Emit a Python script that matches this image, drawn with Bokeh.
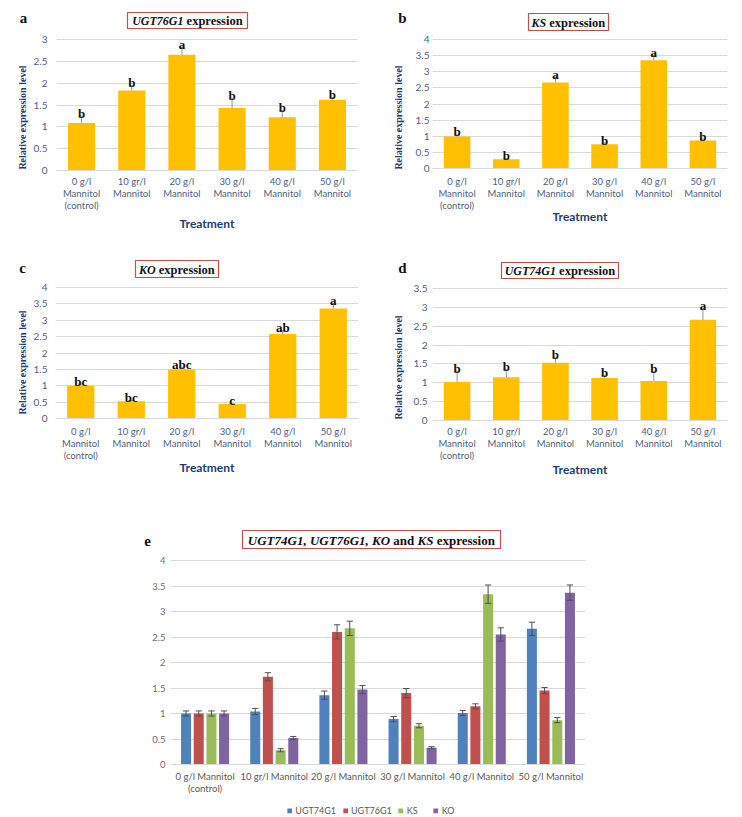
import numpy as np
from bokeh.plotting import figure
from bokeh.models import (ColumnDataSource, FixedTicker, CustomJSTickFormatter, Label,
                          BoxAnnotation, Legend, LegendItem, Range1d, Plot)
from bokeh.layouts import column, row
from bokeh.core.properties import value
from bokeh.embed import file_html
from bokeh.resources import INLINE

# ---------------- data ----------------
cat_labels_small = ["0 g/l\nMannitol\n(control)", "10 gr/l\nMannitol", "20 g/l\nMannitol",
                    "30 g/l\nMannitol", "40 g/l\nMannitol", "50 g/l\nMannitol"]
cat_labels_e = ["0 g/l Mannitol\n(control)", "10 gr/l Mannitol", "20 g/l Mannitol",
                "30 g/l Mannitol", "40 g/l Mannitol", "50 g/l Mannitol"]

# panel a: UGT76G1
ugt76g1_mean = [1.09, 1.83, 2.65, 1.43, 1.22, 1.62]
ugt76g1_err = [0.15, 0.11, 0.17, 0.21, 0.15, 0.05]
ugt76g1_sig = ["b", "b", "a", "b", "b", "b"]
# panel b: KS
ks_mean = [0.99, 0.29, 2.67, 0.75, 3.36, 0.87]
ks_err = [0.05, 0.02, 0.16, 0.04, 0.15, 0.04]
ks_sig = ["b", "b", "a", "b", "a", "b"]
# panel c: KO
ko_mean = [1.00, 0.53, 1.50, 0.44, 2.58, 3.36]
ko_err = [0.05, 0.02, 0.05, 0.01, 0.10, 0.15]
ko_sig = ["bc", "bc", "abc", "c", "ab", "a"]
# panel d: UGT74G1
ugt74g1_mean = [1.02, 1.15, 1.53, 1.13, 1.05, 2.67]
ugt74g1_err = [0.28, 0.20, 0.13, 0.06, 0.25, 0.29]
ugt74g1_sig = ["b", "b", "b", "b", "b", "a"]

# panel e: all four genes
e_series = ["UGT74G1", "UGT76G1", "KS", "KO"]
e_ugt74g1_mean = [1.00, 1.04, 1.36, 0.89, 1.01, 2.66]
e_ugt74g1_sd = [0.05, 0.06, 0.08, 0.05, 0.05, 0.13]
e_ugt76g1_mean = [1.00, 1.72, 2.60, 1.40, 1.14, 1.45]
e_ugt76g1_sd = [0.05, 0.08, 0.14, 0.09, 0.05, 0.06]
e_ks_mean = [1.00, 0.28, 2.67, 0.76, 3.34, 0.87]
e_ks_sd = [0.05, 0.03, 0.14, 0.04, 0.18, 0.05]
e_ko_mean = [1.00, 0.52, 1.47, 0.33, 2.55, 3.37]
e_ko_sd = [0.05, 0.03, 0.08, 0.02, 0.13, 0.15]
e_colors = ["#4F81BD", "#C0504D", "#9BBB59", "#8064A2"]

# ---------------- styling ----------------
SERIF = "Liberation Serif"
SANS = "Lato"
BAR = "#FFC000"
GRID = "#D9D9D9"
TICK_BLUE = "#4E6180"
DARK_BLUE = "#1F3C6B"
BOX_RED = "#C0504D"
INK = "#111111"

NOALIGN = {"frame_align": False} if "frame_align" in Plot.properties() else {}

# Times (Liberation Serif) advance widths, per 1000 em
BI = {"U": 722, "G": 722, "T": 611, "K": 667, "O": 722, "S": 556, ",": 250, " ": 250}
for d in "0123456789":
    BI[d] = 500
B = {"e": 444, "x": 500, "p": 556, "r": 444, "s": 389, "i": 278, "o": 500, "n": 556,
     "a": 500, "d": 556, " ": 250}


def text_w(s, italic, size):
    tab = BI if italic else B
    return sum(tab.get(c, 500) for c in s) * size / 1000.0


def canvas(w, h):
    """A plain drawing area whose data units are pixels (y downward)."""
    c = figure(width=w, height=h, x_range=Range1d(0, w), y_range=Range1d(h, 0),
               output_backend="svg", toolbar_location=None,
               min_border_left=0, min_border_right=0, min_border_top=0, min_border_bottom=0,
               x_axis_location=None, y_axis_location=None, **NOALIGN)
    c.outline_line_color = None
    c.background_fill_color = "white"
    c.border_fill_color = "white"
    c.grid.grid_line_color = None
    c.grid.visible = False
    return c


def add_title(c, box, segs):
    l, r, t, b = box
    c.add_layout(BoxAnnotation(left=l, right=r, top=t, bottom=b,
                               fill_color="white", fill_alpha=1.0, line_color=BOX_RED,
                               line_width=1.2, line_alpha=1.0))
    widths = [text_w(s, it, sz) for s, it, sz in segs]
    gaps = [250 * sz / 1000.0 for s, it, sz in segs[1:]]
    total = sum(widths) + sum(gaps)
    xpos = (l + r) / 2.0 - total / 2.0
    cy = (t + b) / 2.0 + 0.5
    for i, (s, it, sz) in enumerate(segs):
        c.add_layout(Label(x=xpos, y=cy, text=s, text_font=SERIF,
                           text_font_style="bold italic" if it else "bold",
                           text_font_size=f"{sz}px", text_align="left",
                           text_baseline="middle", text_color=INK))
        xpos += widths[i]
        if i < len(gaps):
            xpos += gaps[i]


def header(w, h, letter, letter_xy, box, segs):
    c = canvas(w, h)
    c.add_layout(Label(x=letter_xy[0], y=letter_xy[1], text=letter, text_font=SERIF,
                       text_font_style="bold", text_font_size="15px", text_align="center",
                       text_baseline="middle", text_color=INK))
    add_title(c, box, segs)
    return c


def plot_fig(w, h, border_l, frame_w, tick_top, frame_bottom, ymax, pad=8):
    # tick_top / frame_bottom measured from this figure's top edge
    ppu = (frame_bottom - tick_top) / ymax
    y_end = ymax + pad / ppu
    top_border = tick_top - pad
    p = figure(width=w, height=h, x_range=Range1d(-0.5, 5.5), y_range=Range1d(0, y_end),
               output_backend="svg", toolbar_location=None,
               min_border_left=border_l, min_border_right=w - border_l - frame_w,
               min_border_top=top_border, min_border_bottom=h - frame_bottom, **NOALIGN)
    p.outline_line_color = None
    p.background_fill_color = "white"
    p.border_fill_color = "white"
    ticks = [i * 0.5 for i in range(int(round(ymax / 0.5)) + 1)]
    p.yaxis.ticker = FixedTicker(ticks=ticks)
    p.ygrid.ticker = FixedTicker(ticks=ticks)
    p.yaxis.formatter = CustomJSTickFormatter(code="return String(Math.round(tick*10)/10);")
    p.xgrid.grid_line_color = None
    p.ygrid.grid_line_color = GRID
    p.ygrid.grid_line_width = 1
    p.yaxis.axis_line_color = None
    for ax in (p.xaxis, p.yaxis):
        ax.major_tick_line_color = None
        ax.minor_tick_line_color = None
        ax.major_tick_out = 0
        ax.major_tick_in = 0
        ax.minor_tick_out = 0
        ax.minor_tick_in = 0
    p.xaxis.axis_line_color = GRID
    p.xaxis.ticker = FixedTicker(ticks=list(range(6)))
    return p


def small_panel(pw, ph, head_h, strip_w, frame_l, frame_r, tick_top, frame_bottom, ymax,
                means, errs, sig, segs, title_box, letter, letter_xy, ytitle_xy,
                ytick_standoff, cat_standoff, lab_standoff):
    # all coordinates are local to the panel's top-left corner
    head = header(pw, head_h, letter, letter_xy, title_box, segs)
    body_h = ph - head_h
    strip = canvas(strip_w, body_h)
    strip.add_layout(Label(x=ytitle_xy[0], y=ytitle_xy[1] - head_h, text="Relative expression level",
                           angle=np.pi / 2, text_font=SERIF, text_font_style="bold",
                           text_font_size="10px", text_color=DARK_BLUE, text_align="center",
                           text_baseline="middle"))
    p = plot_fig(pw - strip_w, body_h, frame_l - strip_w, frame_r - frame_l,
                 tick_top - head_h, frame_bottom - head_h, ymax)
    xs = list(range(6))
    src = ColumnDataSource(dict(
        x=xs, top=means,
        err_top=[m + e for m, e in zip(means, errs)],
        cap_l=[x - 0.06 for x in xs], cap_r=[x + 0.06 for x in xs], sig=sig))
    p.vbar(x="x", top="top", width=0.54, source=src, fill_color=BAR, line_color=None)
    p.segment(x0="x", y0="top", x1="x", y1="err_top", source=src, line_color="#8497B0", line_width=1)
    p.segment(x0="cap_l", y0="err_top", x1="cap_r", y1="err_top", source=src,
              line_color="#8497B0", line_width=1)
    p.text(x="x", y="err_top", text="sig", source=src, text_font=value(SERIF),
           text_font_style="bold", text_font_size="13px", text_align="center",
           text_baseline="alphabetic", y_offset=-3, text_color=INK)

    p.yaxis.major_label_text_font = SANS
    p.yaxis.major_label_text_font_size = "10px"
    p.yaxis.major_label_text_color = TICK_BLUE
    p.yaxis.major_label_standoff = ytick_standoff

    p.xaxis.formatter = CustomJSTickFormatter(args=dict(labels=cat_labels_small),
                                              code="return labels[Math.round(tick)] || '';")
    p.xaxis.major_label_text_font = SANS
    p.xaxis.major_label_text_font_size = "9.5px"
    p.xaxis.major_label_text_color = TICK_BLUE
    p.xaxis.major_label_text_line_height = 1.1
    p.xaxis.major_label_standoff = cat_standoff
    p.xaxis.axis_label = "Treatment"
    p.xaxis.axis_label_text_font = SANS
    p.xaxis.axis_label_text_font_style = "bold"
    p.xaxis.axis_label_text_font_size = "12px"
    p.xaxis.axis_label_text_color = DARK_BLUE
    p.xaxis.axis_label_standoff = lab_standoff
    return column(row(head), row(column(strip), column(p)))


# panel a: page x 0..371, y 0..248
pa = small_panel(371, 248, 31, 30, 55, 357, 39, 170, 3.0, ugt76g1_mean, ugt76g1_err, ugt76g1_sig,
                 [("UGT76G1", True, 12), ("expression", False, 12.5)], (127, 247, 12, 28),
                 "a", (23, 17), (22, 117), 9, 5, 2)
# panel b: page x 371..742, y 0..248
pb = small_panel(371, 248, 31, 36, 432 - 371, 727 - 371, 39, 168, 4.0, ks_mean, ks_err, ks_sig,
                 [("KS", True, 12), ("expression", False, 12.5)], (157, 237, 13, 30),
                 "b", (31, 17), (27, 117), 3, 7, -5)
# panel c: page x 0..371, y 248..490
pc = small_panel(371, 242, 31, 30, 55, 358, 287 - 248, 418 - 248, 4.0, ko_mean, ko_err, ko_sig,
                 [("KO", True, 12), ("expression", False, 12.5)], (135, 218, 12, 29),
                 "c", (22, 19), (22, 362 - 248), 8, 7, -4)
# panel d: page x 371..742, y 248..490
pd_ = small_panel(371, 242, 32, 36, 432 - 371, 727 - 371, 288 - 248, 420 - 248, 3.5,
                  ugt74g1_mean, ugt74g1_err, ugt74g1_sig,
                  [("UGT74G1", True, 12), ("expression", False, 12.5)], (130, 247, 14, 30),
                  "d", (31, 19), (27, 367 - 248), 5, 5, -2)

# ---------------- panel e: page y 490..817 ----------------
e_head_h = 62
e_head = header(742, e_head_h, "e", (147, 50), (242, 500, 40, 58),
                [("UGT74G1, UGT76G1, KO", True, 13), ("and", False, 13), ("KS", True, 13),
                 ("expression", False, 13)])
pe = plot_fig(742, 251, 170, 415, 560 - 552, 764 - 552, 4.0, pad=8)
e_means = [e_ugt74g1_mean, e_ugt76g1_mean, e_ks_mean, e_ko_mean]
e_sds = [e_ugt74g1_sd, e_ugt76g1_sd, e_ks_sd, e_ko_sd]
offsets = [-0.275, -0.092, 0.092, 0.275]
for name, m, sd, off, col in zip(e_series, e_means, e_sds, offsets, e_colors):
    xs = [i + off for i in range(6)]
    src = ColumnDataSource(dict(x=xs, top=m,
                                lo=[a - b for a, b in zip(m, sd)],
                                hi=[a + b for a, b in zip(m, sd)],
                                cl=[x - 0.045 for x in xs], cr=[x + 0.045 for x in xs]))
    pe.vbar(x="x", top="top", width=0.145, source=src, fill_color=col, line_color=None)
    pe.segment(x0="x", y0="lo", x1="x", y1="hi", source=src, line_color="#505050", line_width=1)
    pe.segment(x0="cl", y0="hi", x1="cr", y1="hi", source=src, line_color="#505050", line_width=1)
    pe.segment(x0="cl", y0="lo", x1="cr", y1="lo", source=src, line_color="#505050", line_width=1)

pe.yaxis.major_label_text_font = SANS
pe.yaxis.major_label_text_font_size = "9.5px"
pe.yaxis.major_label_text_color = "#6E6E6E"
pe.yaxis.major_label_standoff = 5
pe.xaxis.formatter = CustomJSTickFormatter(args=dict(labels=cat_labels_e),
                                           code="return labels[Math.round(tick)] || '';")
pe.xaxis.major_label_text_font = SANS
pe.xaxis.major_label_text_font_size = "9.5px"
pe.xaxis.major_label_text_color = "#595959"
pe.xaxis.major_label_text_line_height = 1.1
pe.xaxis.major_label_standoff = 6

# legend strip (swatch proxies sit outside the visible area)
leg = canvas(748, 14)
items = []
for name, col in zip(e_series, e_colors):
    r = leg.vbar(x=[-100], top=[-100], width=1, fill_color=col, line_color=None)
    items.append(LegendItem(label=name, renderers=[r]))
legend = Legend(items=items, orientation="horizontal", location="center",
                border_line_color=None, background_fill_alpha=0, glyph_width=6, glyph_height=6,
                label_text_font=SANS, label_text_font_size="9px", label_text_color="#595959",
                spacing=6, padding=0, margin=0, label_standoff=3, label_height=9)
leg.add_layout(legend)

layout = column(row(pa, pb), row(pc, pd_), row(e_head), row(pe), row(leg))
open("out.html", "w").write(file_html(layout, INLINE))
